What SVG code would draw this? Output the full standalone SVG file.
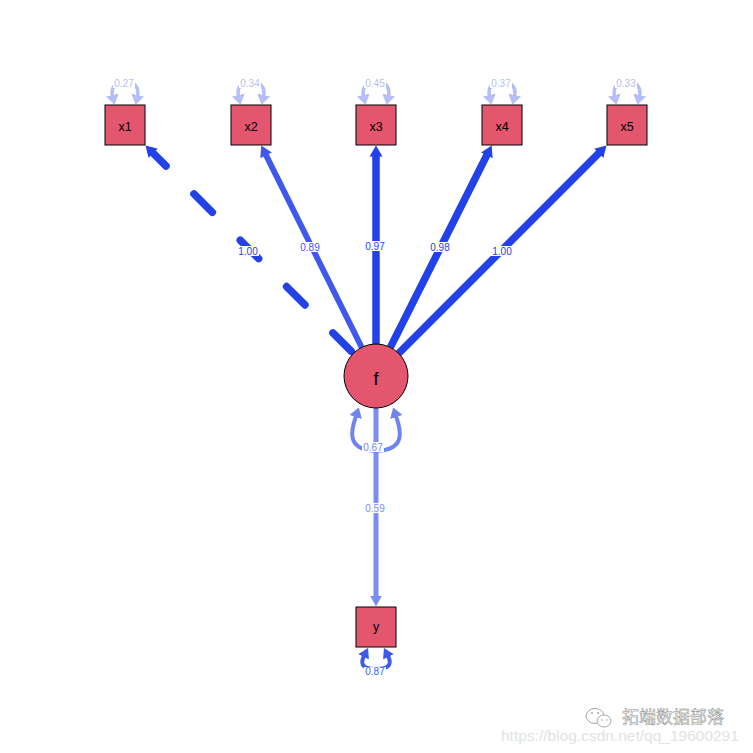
<svg xmlns="http://www.w3.org/2000/svg" width="753" height="753" viewBox="0 0 753 753">
<style>
.node{fill:#e4566e;stroke:#000;stroke-width:1}
.nlab{font-family:"Liberation Sans",Arial,sans-serif;font-size:12.5px;text-anchor:middle;fill:#000}
.lbl{font-family:"Liberation Sans",Arial,sans-serif;font-size:10px;text-anchor:middle}
.bg{fill:#fff}
.e{fill:none}
.dark{stroke:#2341e8;stroke-width:7.5}
.mid{stroke:#4059ec;stroke-width:5.8}
.lp{stroke:#b3bff6;stroke-width:3.5}
</style>
<defs>
<marker id="aDark" markerUnits="userSpaceOnUse" viewBox="0 -7 12 14" markerWidth="12" markerHeight="14" refX="3" refY="0" orient="auto-start-reverse"><path d="M0,-6.5 L11,0 L0,6.5 z" fill="#2341e8"/></marker>
<marker id="aMid" markerUnits="userSpaceOnUse" viewBox="0 -7 12 14" markerWidth="12" markerHeight="14" refX="3" refY="0" orient="auto"><path d="M0,-6.5 L11,0 L0,6.5 z" fill="#4059ec"/></marker>
<marker id="aY" markerUnits="userSpaceOnUse" viewBox="0 -7 12 14" markerWidth="12" markerHeight="14" refX="3" refY="0" orient="auto"><path d="M0,-6 L11,0 L0,6 z" fill="#7b8df0"/></marker>
<marker id="aL" markerUnits="userSpaceOnUse" viewBox="0 -7 11 14" markerWidth="11" markerHeight="14" refX="1" refY="0" orient="auto-start-reverse"><path d="M0,-6.5 L10,0 L0,6.5 z" fill="#b3bff6"/></marker>
<marker id="aF" markerUnits="userSpaceOnUse" viewBox="0 -7 11 14" markerWidth="11" markerHeight="14" refX="1" refY="0" orient="auto-start-reverse"><path d="M0,-6.5 L10,0 L0,6.5 z" fill="#6f84ef"/></marker>
<marker id="aYL" markerUnits="userSpaceOnUse" viewBox="0 -7 11 14" markerWidth="11" markerHeight="14" refX="1" refY="0" orient="auto-start-reverse"><path d="M0,-6 L10,0 L0,6 z" fill="#3f5aeb"/></marker>
</defs>
<rect width="753" height="753" fill="#fff"/>
<g id="connectors">
<path class="e dark" d="M151.16,151.16 L353.37,353.37" stroke-dasharray="26 39.5" stroke-dashoffset="5" stroke-linecap="round" marker-start="url(#aDark)"/>
<path class="e mid" d="M361.73,347.36 L264.77,152.66" marker-end="url(#aMid)"/>
<path class="e dark" d="M376,344 L376,153.5" marker-end="url(#aDark)"/>
<path class="e dark" d="M390.36,347.4 L488.11,152.65" marker-end="url(#aDark)"/>
<path class="e dark" d="M398.63,353.37 L600.84,151.16" marker-end="url(#aDark)"/>
<path class="e" stroke="#7b8df0" stroke-width="5" d="M376,408 L376,598.5" marker-end="url(#aY)"/>
<path class="e lp" d="M112.5,96 C108,76 142,76 137.5,96" marker-start="url(#aL)" marker-end="url(#aL)"/>
<path class="e lp" d="M238.5,96 C234,76 268,76 263.5,96" marker-start="url(#aL)" marker-end="url(#aL)"/>
<path class="e lp" d="M363.5,96 C359,76 393,76 388.5,96" marker-start="url(#aL)" marker-end="url(#aL)"/>
<path class="e lp" d="M489.5,96 C485,76 519,76 514.5,96" marker-start="url(#aL)" marker-end="url(#aL)"/>
<path class="e lp" d="M614.5,96 C610,76 644,76 639.5,96" marker-start="url(#aL)" marker-end="url(#aL)"/>
<path class="e" stroke="#6f84ef" stroke-width="4" d="M356,416 C352,428 344,450 376,451 C408,450 400,428 396,416" marker-start="url(#aF)" marker-end="url(#aF)"/>
<path class="e" stroke="#3f5aeb" stroke-width="4" d="M364,656 C361,662 360,669 376,669 C392,669 391,662 388,656" marker-start="url(#aYL)" marker-end="url(#aYL)"/>
<g id="edge-labels">
<rect class="bg" x="237" y="246" width="22" height="10"/><text class="lbl" x="248" y="254.5" fill="#2341e8">1.00</text>
<rect class="bg" x="299" y="242" width="22" height="10"/><text class="lbl" x="310" y="250.5" fill="#4059ec">0.89</text>
<rect class="bg" x="364" y="241" width="22" height="10"/><text class="lbl" x="375" y="249.5" fill="#2341e8">0.97</text>
<rect class="bg" x="429" y="242" width="22" height="10"/><text class="lbl" x="440" y="250.5" fill="#2341e8">0.98</text>
<rect class="bg" x="491" y="246" width="22" height="10"/><text class="lbl" x="502" y="254.5" fill="#2341e8">1.00</text>
<rect class="bg" x="364" y="503" width="22" height="10"/><text class="lbl" x="375" y="511.5" fill="#7b8df0">0.59</text>
<rect class="bg" x="362" y="442" width="22" height="10"/><text class="lbl" x="373" y="450.5" fill="#6f84ef">0.67</text>
<rect class="bg" x="364" y="667" width="22" height="10"/><text class="lbl" x="375" y="675" fill="#3f5aeb">0.87</text>
<rect class="bg" x="113" y="78" width="22" height="10"/><text class="lbl" x="124" y="86.5" fill="#b3bff6">0.27</text>
<rect class="bg" x="239" y="78" width="22" height="10"/><text class="lbl" x="250" y="86.5" fill="#b3bff6">0.34</text>
<rect class="bg" x="364" y="78" width="22" height="10"/><text class="lbl" x="375" y="86.5" fill="#b3bff6">0.45</text>
<rect class="bg" x="490" y="78" width="22" height="10"/><text class="lbl" x="501" y="86.5" fill="#b3bff6">0.37</text>
<rect class="bg" x="615" y="78" width="22" height="10"/><text class="lbl" x="626" y="86.5" fill="#b3bff6">0.33</text>
</g>
</g>
<g id="x1"><rect class="node" x="105" y="105" width="40" height="40"/><text class="nlab" x="125" y="131">x1</text></g>
<g id="x2"><rect class="node" x="231" y="105" width="40" height="40"/><text class="nlab" x="251" y="131">x2</text></g>
<g id="x3"><rect class="node" x="356" y="105" width="40" height="40"/><text class="nlab" x="376" y="131">x3</text></g>
<g id="x4"><rect class="node" x="482" y="105" width="40" height="40"/><text class="nlab" x="502" y="131">x4</text></g>
<g id="x5"><rect class="node" x="607" y="105" width="40" height="40"/><text class="nlab" x="627" y="131">x5</text></g>
<g id="f"><circle class="node" cx="376" cy="376" r="32"/><text x="376" y="385" font-family="Liberation Sans, Arial, sans-serif" font-size="18" text-anchor="middle">f</text></g>
<g id="y"><rect class="node" x="356" y="607" width="40" height="40"/><text class="nlab" x="376" y="631">y</text></g>
<g id="watermark">
<ellipse cx="595" cy="716" rx="9" ry="7.5" fill="#fff" stroke="#a8a8a8" stroke-width="1"/>
<ellipse cx="604" cy="721" rx="7" ry="6" fill="#fff" stroke="#a8a8a8" stroke-width="1"/>
<circle cx="592" cy="713" r="1" fill="#a8a8a8"/><circle cx="598" cy="713" r="1" fill="#a8a8a8"/>
<circle cx="602" cy="720" r="0.8" fill="#a8a8a8"/><circle cx="607" cy="720" r="0.8" fill="#a8a8a8"/>
<text x="622" y="723" font-family="Noto Sans CJK SC, sans-serif" font-size="17" fill="#ffffff" stroke="#8a8a8a" stroke-width="0.5">拓端数据部落</text>
<text x="501" y="741" font-family="Liberation Sans, Arial, sans-serif" font-size="15.5" fill="#e2e2e2">https://blog.csdn.net/qq_19600291</text>
</g>
</svg>
